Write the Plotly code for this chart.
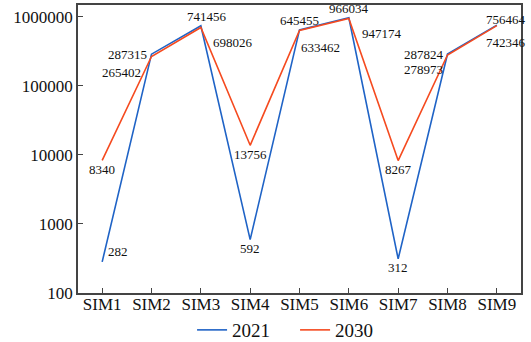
import math
import plotly.graph_objects as go

categories = ["SIM1", "SIM2", "SIM3", "SIM4", "SIM5", "SIM6", "SIM7", "SIM8", "SIM9"]
values_2021 = [282, 287315, 741456, 592, 645455, 966034, 312, 287824, 756464]
values_2030 = [8340, 265402, 698026, 13756, 633462, 947174, 8267, 278973, 742346]
y_tick_values = [100, 1000, 10000, 100000, 1000000]

# pixel offsets (dx, dy) of each value label from its point
offsets_2021 = [(16, -10), (-24, 0), (6, -9), (0, 9), (0, -9), (0, -9), (0, 9), (-24, 0), (9, -6)]
offsets_2030 = [(0, 9), (-30, 16), (32, 15), (0, 9), (21, 17), (33, 15), (0, 9), (-24, 14), (9, 17)]

BLUE = "#1f63c6"
RED = "#f54a1f"
FONT = "Liberation Serif"

fig = go.Figure()
fig.add_trace(go.Scatter(x=categories, y=values_2021, mode="lines", name="2021",
                         line=dict(color=BLUE, width=1.6)))
fig.add_trace(go.Scatter(x=categories, y=values_2030, mode="lines", name="2030",
                         line=dict(color=RED, width=1.6)))

annotations = []
for vals, offs in ((values_2021, offsets_2021), (values_2030, offsets_2030)):
    for cat, v, (dx, dy) in zip(categories, vals, offs):
        annotations.append(dict(x=cat, y=math.log10(v), text=str(v),
                                showarrow=False, xshift=dx, yshift=-dy,
                                xanchor="center", yanchor="middle",
                                font=dict(family=FONT, size=13, color="#111")))

fig.update_layout(
    width=531, height=342,
    margin=dict(l=78, r=10, t=5, b=49, autoexpand=False),
    paper_bgcolor="white", plot_bgcolor="white",
    font=dict(family=FONT, size=17, color="#111"),
    showlegend=True,
    legend=dict(orientation="h", x=0.49, xanchor="center",
                yref="container", y=0.035, yanchor="middle",
                bgcolor="rgba(0,0,0,0)",
                font=dict(family=FONT, size=19), entrywidth=58, tracegroupgap=0),
    annotations=annotations,
)
fig.update_xaxes(range=[-0.49, 8.49], showline=True, linecolor="#444", linewidth=1.5,
                 mirror=True, ticks="inside", ticklen=5, tickcolor="#444", showgrid=False,
                 ticklabelstandoff=-5,
                 automargin=False, tickfont=dict(family=FONT, size=17))
fig.update_yaxes(type="log", range=[2, 6.17], showline=True, linecolor="#444", linewidth=1.5,
                 mirror=True, ticks="inside", ticklen=5, tickcolor="#444", showgrid=False,
                 tickvals=y_tick_values, ticktext=[str(v) for v in y_tick_values],
                 automargin=False, tickfont=dict(family=FONT, size=17))

fig.write_html("out.html")
